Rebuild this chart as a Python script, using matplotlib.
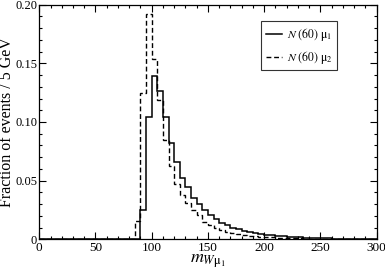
import matplotlib
matplotlib.use("Agg")
import matplotlib.pyplot as plt
import numpy as np
from matplotlib.ticker import MultipleLocator

# histogram bins, 5 GeV wide; values listed from 85 GeV up to 300 GeV
bin_width = 5
first_bin = 85
mu1 = [0.0, 0.025, 0.1045, 0.139, 0.1267, 0.1045, 0.082, 0.0655, 0.0525,
       0.0445, 0.0355, 0.030, 0.025, 0.0207, 0.017, 0.0142, 0.0119, 0.0099,
       0.0085, 0.0071, 0.006, 0.0052, 0.0045, 0.0039, 0.0034, 0.003, 0.0026,
       0.0022, 0.0019, 0.0016, 0.0013, 0.0011, 0.0009, 0.0008, 0.0007,
       0.0006, 0.0005, 0.0004, 0.0004, 0.0003, 0.0003, 0.0002, 0.0002]
mu2 = [0.016, 0.125, 0.192, 0.1535, 0.1187, 0.085, 0.0627, 0.047, 0.0378,
       0.0307, 0.025, 0.0207, 0.015, 0.0122, 0.0094, 0.0079, 0.0065, 0.0052,
       0.0044, 0.0037, 0.0031, 0.0027, 0.0023, 0.002, 0.0017, 0.0014, 0.0012,
       0.001, 0.0008, 0.0007, 0.0006, 0.0005, 0.0004, 0.0003, 0.0003,
       0.0002, 0.0002, 0.0002, 0.0001, 0.0001, 0.0001, 0.0001, 0.0001]
labels = [r"$N\ (60)\ \mathrm{\mu}_1$", r"$N\ (60)\ \mathrm{\mu}_2$"]
ytick_labels = ["0", "0.05", "0.10", "0.15", "0.20"]

plt.rcParams["font.family"] = "Liberation Serif"
plt.rcParams["mathtext.fontset"] = "stix"

n_lead = first_bin // bin_width
edges = np.arange(0, first_bin + bin_width * (len(mu1) + 1), bin_width)
vals1 = np.concatenate([np.zeros(n_lead), mu1])
vals2 = np.concatenate([np.zeros(n_lead), mu2])

fig = plt.figure(figsize=(3.85, 2.73), dpi=100)
ax = fig.add_axes([0.102, 0.1234, 0.876, 0.8596])

ax.stairs(vals1, edges, color="black", lw=1.1, label=labels[0])
ax.stairs(vals2, edges, color="black", lw=1.0, linestyle=(0, (3.5, 2)),
          label=labels[1])

ax.set_xlim(0, 300)
ax.set_ylim(0, 0.20)
ax.xaxis.set_major_locator(MultipleLocator(50))
ax.xaxis.set_minor_locator(MultipleLocator(10))
ax.yaxis.set_major_locator(MultipleLocator(0.05))
ax.yaxis.set_minor_locator(MultipleLocator(0.01))
ax.set_yticks([0, 0.05, 0.10, 0.15, 0.20])
ax.set_yticklabels(ytick_labels)
ax.tick_params(which="both", direction="in", top=True, right=True,
               labelsize=9.5, width=0.8)
ax.tick_params(which="major", length=5)
ax.tick_params(which="minor", length=2.5)
ax.tick_params(axis="x", pad=2)
ax.tick_params(axis="y", labelsize=9, pad=1.5)
for s in ax.spines.values():
    s.set_linewidth(0.9)

ax.set_xlabel(r"$m_{W\mathrm{\mu}_1}$", fontsize=13, labelpad=-1)
ax.set_ylabel("Fraction of events / 5 GeV", fontsize=11.5)
ax.yaxis.set_label_coords(-0.072, 0.5)

leg = ax.legend(loc="upper left", bbox_to_anchor=(0.658, 0.93),
                fontsize=8.5, frameon=True, fancybox=False,
                handlelength=1.4, handletextpad=0.4, borderpad=0.4,
                borderaxespad=0, labelspacing=0.5)
leg.get_frame().set_edgecolor("black")
leg.get_frame().set_linewidth(0.8)

fig.savefig("out.png", dpi=100)
